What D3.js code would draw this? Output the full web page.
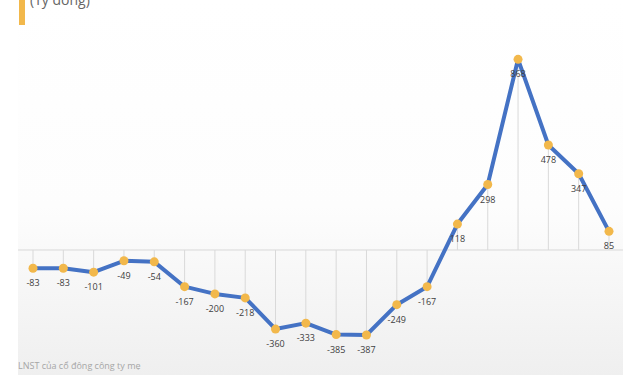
<!DOCTYPE html>
<html>
<head>
<meta charset="utf-8">
<script src="https://cdn.jsdelivr.net/npm/d3@7"></script>
<style>
  body { margin: 0; background: #fff; }
  svg { display: block; }
</style>
</head>
<body>
<script>
// data
const periods = ["Q1","Q2","Q3","Q4","Q5","Q6","Q7","Q8","Q9","Q10","Q11","Q12","Q13","Q14","Q15","Q16","Q17","Q18","Q19","Q20"]
const profit = [-83, -83, -101, -49, -54, -167, -200, -218, -360, -333, -385, -387, -249, -167, 118, 298, 868, 478, 347, 85]
const unitLabel = "(Tỷ đồng)"
const seriesName = "LNST của cổ đông công ty mẹ"

const width = 640, height = 375
const panel = { left: 18, right: 623 }

const data = periods.map((p, i) => ({ period: p, value: profit[i] }))

const svg = d3.select("body").append("svg")
    .attr("width", width)
    .attr("height", height)

const defs = svg.append("defs")
const grad = defs.append("linearGradient")
    .attr("id", "bg").attr("x1", 0).attr("y1", 0).attr("x2", 0).attr("y2", 1)
grad.append("stop").attr("offset", "0%").attr("stop-color", "#ffffff")
grad.append("stop").attr("offset", "55%").attr("stop-color", "#fdfdfd")
grad.append("stop").attr("offset", "100%").attr("stop-color", "#efefef")

svg.append("rect")
    .attr("x", panel.left).attr("y", 0)
    .attr("width", panel.right - panel.left).attr("height", height)
    .attr("fill", "url(#bg)")

const x = d3.scalePoint()
    .domain(periods)
    .range([33, 609])

const y = d3.scaleLinear()
    .domain([-387, 865])
    .range([335, 60])

// baseline
svg.append("line")
    .attr("x1", panel.left).attr("x2", panel.right)
    .attr("y1", y(0)).attr("y2", y(0))
    .attr("stroke", "#d9d9d9").attr("stroke-width", 1)

// drop lines
svg.append("g")
    .selectAll("line")
    .data(data)
    .join("line")
      .attr("x1", d => x(d.period)).attr("x2", d => x(d.period))
      .attr("y1", y(0)).attr("y2", d => y(d.value))
      .attr("stroke", "#d9d9d9").attr("stroke-width", 1)

const line = d3.line()
    .x(d => x(d.period))
    .y(d => y(d.value))

svg.append("path")
    .datum(data)
    .attr("fill", "none")
    .attr("stroke", "#4472c4")
    .attr("stroke-width", 4)
    .attr("stroke-linejoin", "round")
    .attr("d", line)

svg.append("g")
    .selectAll("circle")
    .data(data)
    .join("circle")
      .attr("cx", d => x(d.period))
      .attr("cy", d => y(d.value))
      .attr("r", 4.5)
      .attr("fill", "#f2b84b")

svg.append("g")
    .attr("font-family", "Open Sans, sans-serif")
    .attr("font-size", 9)
    .attr("fill", "#404040")
    .attr("text-anchor", "middle")
  .selectAll("text")
  .data(data)
  .join("text")
    .attr("x", d => x(d.period))
    .attr("y", d => y(d.value) + 18)
    .text(d => d.value)

// title bits
svg.append("rect")
    .attr("x", 19).attr("y", 0)
    .attr("width", 6).attr("height", 25)
    .attr("fill", "#f2b84b")

svg.append("text")
    .attr("x", 30).attr("y", 5)
    .attr("font-family", "Open Sans, sans-serif")
    .attr("font-size", 14)
    .attr("fill", "#666")
    .text(unitLabel)

svg.append("text")
    .attr("x", 18).attr("y", 369)
    .attr("font-family", "Open Sans, sans-serif")
    .attr("font-size", 9)
    .attr("fill", "#a6a6a6")
    .text(seriesName)
</script>
</body>
</html>
